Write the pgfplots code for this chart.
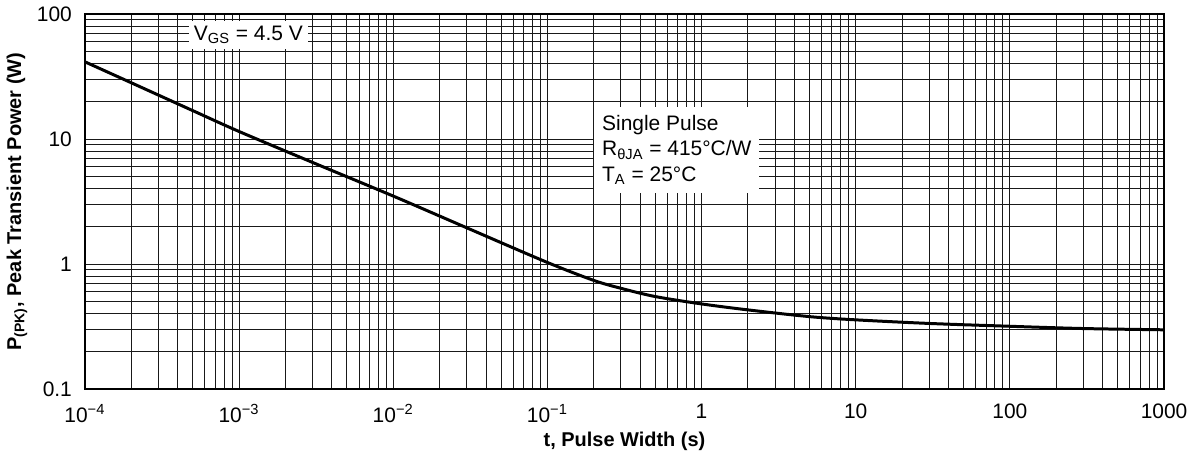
\documentclass[border=0pt]{standalone}
\usepackage{fontspec}
\setmainfont{Liberation Sans}
\usepackage{pgfplots}
\pgfplotsset{compat=1.18}

\begin{document}
\begin{tikzpicture}
\begin{axis}[
    xmode=log, ymode=log,
    scale only axis,
    width=541pt, height=188pt,
    xmin=1e-4, xmax=1000,
    ymin=0.1, ymax=100,
    xtick={1e-4,1e-3,1e-2,1e-1,1,10,100,1000},
    xticklabels={10\textsuperscript{−4},10\textsuperscript{−3},10\textsuperscript{−2},10\textsuperscript{−1},1,10,100,1000},
    ytick={0.1,1,10,100},
    yticklabels={0.1,1,10,100},
    grid=both,
    major grid style={black!90, line width=0.5pt},
    minor grid style={black!90, line width=0.5pt},
    major tick length=0pt, minor tick length=0pt,
    axis line style={line width=1.2pt},
    tick label style={font=\fontsize{10.5}{12}\selectfont},
    xticklabel style={yshift=-4pt},
    yticklabel style={xshift=-3pt},
    xlabel={\bfseries t, Pulse Width (s)},
    ylabel={\bfseries P\textsubscript{(PK)}, Peak Transient Power (W)},
    label style={font=\fontsize{10}{12}\selectfont},
    xlabel style={yshift=2pt},
    ylabel style={yshift=-2pt},
]
\addplot[black, line width=1.5pt, smooth] coordinates {
    (1e-4,41.5) (2e-4,28.2) (5e-4,16.9) (1e-3,11.5) (3e-3,6.5)
    (1e-2,3.5) (3e-2,1.95) (1e-1,1.03) (2e-1,0.74) (3e-1,0.64)
    (5e-1,0.55) (1,0.48) (2,0.43) (5,0.38) (10,0.358)
    (30,0.335) (100,0.318) (300,0.305) (1000,0.298)
};
\node[fill=white, inner sep=2.5pt, font=\fontsize{10.5}{12}\selectfont]
    at (axis cs:1.15e-3,68) {V\textsubscript{GS} = 4.5 V};
\node[fill=white, anchor=west, align=left, inner sep=4pt,
      font=\fontsize{10.5}{12.8}\selectfont]
    at (axis cs:0.2,8.2) {Single Pulse\\R\textsubscript{θJA} = 415°C/W\\T\textsubscript{A} = 25°C};
\end{axis}
\end{tikzpicture}
\end{document}
